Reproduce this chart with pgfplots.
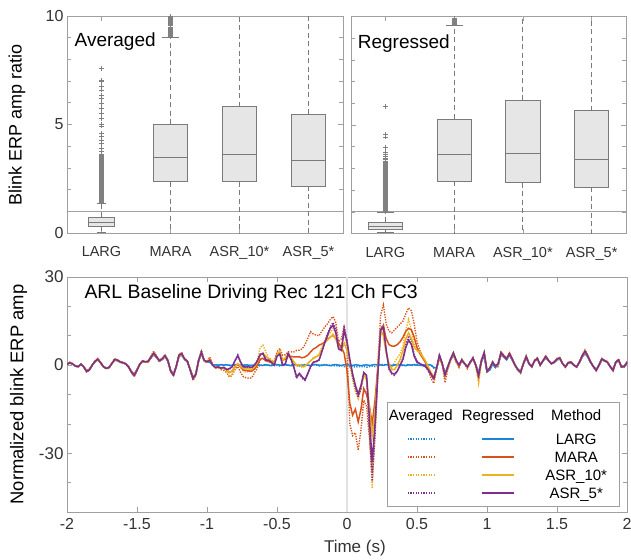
\documentclass[border=0pt]{standalone}
\usepackage{fontspec}
\setmainfont{Liberation Sans}
\usepackage{pgfplots}
\pgfplotsset{compat=1.18}
\usepackage{pgfplotstable}
\usepgfplotslibrary{statistics}

\definecolor{mblue}{rgb}{0.10,0.52,0.85}
\definecolor{morange}{rgb}{0.85,0.325,0.098}
\definecolor{myellow}{rgb}{0.929,0.694,0.125}
\definecolor{mpurple}{rgb}{0.494,0.184,0.556}
\definecolor{axgray}{HTML}{A0A0A0}
\definecolor{boxline}{HTML}{7A7A7A}
\definecolor{boxfill}{HTML}{E6E6E6}
\definecolor{outgray}{HTML}{808080}
\definecolor{tickgray}{HTML}{333333}
\definecolor{zerogray}{HTML}{E2E2E2}

\newcommand{\solidsample}[1]{\textcolor{#1}{\rule[0.32em]{32pt}{1.5pt}}}
\newcommand{\dotsample}[1]{\textcolor{#1}{\leaders\hbox to 2.6pt{\hss\rule[0.32em]{1.3pt}{1.5pt}\hss}\hskip 31.2pt}}

\pgfplotstableread{
t LA LR MA MR YA YR PA PR
-2.00 0.3 0.3 0.4 0.3 0.3 0.3 0.3 0.3
-1.98 0.7 0.7 1.0 0.8 0.9 0.8 0.9 0.8
-1.96 0.4 0.4 0.5 0.4 0.5 0.4 0.4 0.4
-1.94 -0.3 -0.3 -0.4 -0.3 -0.3 -0.3 -0.3 -0.3
-1.92 -0.5 -0.5 -0.6 -0.5 -0.6 -0.5 -0.6 -0.5
-1.90 0.3 0.3 0.4 0.3 0.3 0.3 0.3 0.3
-1.88 -0.6 -0.6 -0.7 -0.6 -0.7 -0.6 -0.7 -0.6
-1.86 -1.9 -1.9 -2.4 -2.0 -2.3 -2.0 -2.2 -2.1
-1.84 -1.4 -1.4 -1.8 -1.5 -1.7 -1.5 -1.6 -1.6
-1.82 0.0 0.0 0.0 0.0 0.0 0.0 0.0 0.0
-1.80 1.1 1.1 1.4 1.2 1.4 1.2 1.3 1.3
-1.78 1.8 1.8 2.3 1.9 2.2 1.9 2.1 2.0
-1.76 0.8 0.8 1.0 0.8 0.9 0.8 0.9 0.8
-1.74 -0.5 -0.5 -0.6 -0.5 -0.6 -0.5 -0.6 -0.5
-1.72 -1.0 -1.0 -1.2 -1.0 -1.2 -1.0 -1.1 -1.1
-1.70 -0.8 -0.8 -1.0 -0.8 -0.9 -0.8 -0.9 -0.8
-1.68 0.5 0.5 0.6 0.5 0.6 0.5 0.6 0.5
-1.66 1.7 1.7 2.2 1.8 2.1 1.8 2.0 1.9
-1.64 1.5 1.5 1.9 1.6 1.8 1.6 1.8 1.7
-1.62 1.0 1.0 1.2 1.0 1.2 1.0 1.1 1.1
-1.60 0.8 0.8 1.0 0.8 0.9 0.8 0.9 0.8
-1.58 0.4 0.4 0.5 0.4 0.5 0.4 0.4 0.4
-1.56 -0.6 -0.6 -0.7 -0.6 -0.7 -0.6 -0.7 -0.6
-1.54 -2.1 -2.1 -2.6 -2.2 -2.5 -2.2 -2.4 -2.3
-1.52 -3.1 -3.1 -4.0 -3.3 -3.8 -3.3 -3.6 -3.5
-1.50 -1.5 -1.5 -1.9 -1.6 -1.8 -1.6 -1.8 -1.7
-1.48 0.3 0.3 0.4 0.3 0.3 0.3 0.3 0.3
-1.46 1.2 1.2 1.6 1.3 1.5 1.3 1.4 1.4
-1.44 1.0 1.0 1.2 1.0 1.2 1.0 1.1 1.1
-1.42 1.1 1.1 1.4 1.2 1.4 1.2 1.3 1.3
-1.40 2.5 2.5 3.1 2.6 3.0 2.6 2.9 2.7
-1.38 3.6 3.6 4.8 3.8 4.4 3.8 4.2 4.0
-1.36 2.5 2.5 3.1 2.6 3.0 2.6 2.9 2.7
-1.34 1.3 1.3 1.7 1.4 1.6 1.4 1.5 1.5
-1.32 1.9 1.9 2.4 2.0 2.3 2.0 2.2 2.1
-1.30 2.9 2.9 3.6 3.0 3.5 3.0 3.3 3.2
-1.28 1.4 1.4 1.8 1.5 1.7 1.5 1.7 1.6
-1.26 -1.7 -1.7 -2.2 -1.8 -2.1 -1.8 -2.0 -1.9
-1.24 -3.0 -3.0 -3.8 -3.2 -3.7 -3.2 -3.5 -3.4
-1.22 -0.5 -0.5 -0.6 -0.5 -0.6 -0.5 -0.6 -0.5
-1.20 3.0 3.0 3.8 3.2 3.7 3.2 3.5 3.4
-1.18 3.4 3.4 4.3 3.6 4.1 3.6 4.0 3.8
-1.16 1.9 1.9 2.4 2.0 2.3 2.0 2.2 2.1
-1.14 1.1 1.1 1.4 1.2 1.4 1.2 1.3 1.3
-1.12 -1.4 -1.4 -1.8 -1.5 -1.7 -1.5 -1.7 -1.6
-1.10 -4.1 -4.1 -5.2 -4.3 -4.9 -4.3 -4.7 -4.5
-1.08 -2.9 -2.9 -3.6 -3.0 -3.5 -3.0 -3.3 -3.2
-1.06 1.4 1.4 1.8 1.5 1.7 1.5 1.7 1.6
-1.04 4.0 4.0 5.0 4.2 4.8 4.2 4.6 4.4
-1.02 1.4 1.4 1.8 1.5 1.7 1.5 1.7 1.6
-1.00 1.0 1.0 1.2 1.0 1.2 1.0 1.1 1.1
-0.98 1.0 1.0 2.8 1.8 2.1 1.8 1.8 1.7
-0.96 0.1 0.1 0.5 0.0 0.0 0.0 0.0 0.0
-0.94 0.0 0.1 -1.0 -0.8 -0.9 -0.8 -0.9 -0.8
-0.92 -0.2 0.0 -0.8 -0.6 -0.7 -0.6 -0.7 -0.6
-0.90 0.1 0.2 -1.5 -1.0 -1.2 -1.0 -1.1 -1.0
-0.88 -0.1 0.0 -1.8 -0.8 -1.2 -0.8 -0.9 -0.8
-0.86 0.2 0.1 -2.5 -1.5 -2.0 -1.5 -1.5 -1.5
-0.84 -0.2 0.0 -4.0 -2.5 -4.0 -2.5 -1.5 -1.2
-0.82 0.0 -0.2 -3.5 -2.0 -3.0 -2.0 -0.5 -0.5
-0.80 0.3 0.1 -1.5 -0.5 -1.0 -0.5 1.5 1.5
-0.78 0.0 0.2 -0.5 0.3 0.5 0.5 3.5 3.2
-0.76 -0.3 0.0 -2.5 -0.5 -1.0 -0.3 1.0 1.0
-0.74 0.1 -0.1 -4.0 -1.7 -2.0 -1.2 -0.8 -0.6
-0.72 0.2 0.1 -4.3 -1.8 -2.5 -1.3 -1.0 -0.6
-0.70 -0.2 0.0 -4.5 -2.0 -2.0 -1.3 -0.8 -0.6
-0.68 0.0 -0.2 -4.3 -2.0 -2.0 -1.5 -1.0 -0.8
-0.66 0.3 0.1 -2.5 -1.3 -0.5 -0.5 0.0 0.0
-0.64 0.0 0.2 -1.0 0.0 2.0 1.0 1.5 1.5
-0.62 -0.3 0.0 2.0 2.0 6.0 3.5 3.8 3.5
-0.60 0.1 -0.1 2.5 2.3 6.8 4.0 4.0 4.0
-0.58 0.2 0.1 1.5 1.5 4.5 3.0 2.0 1.7
-0.56 -0.1 0.0 1.5 1.2 2.5 2.3 1.8 1.7
-0.54 0.0 -0.2 1.5 0.8 2.0 1.5 1.0 1.0
-0.52 0.3 0.1 1.0 0.5 0.5 0.5 0.0 0.0
-0.50 0.0 0.2 4.5 3.5 4.0 3.5 3.5 3.0
-0.48 -0.3 0.0 5.7 4.2 5.0 4.5 4.0 3.8
-0.46 0.1 -0.1 3.4 1.7 1.5 1.7 0.0 0.0
-0.44 0.2 0.1 3.5 2.0 2.5 2.5 0.3 0.5
-0.42 -0.1 0.0 4.5 3.0 4.0 3.4 4.2 4.0
-0.40 0.0 -0.2 4.5 3.0 2.5 2.5 2.0 2.0
-0.38 0.3 0.1 4.5 2.8 1.0 1.1 -0.8 -0.6
-0.36 0.0 0.2 5.0 2.8 -0.5 0.0 -4.5 -4.0
-0.34 -0.3 0.0 5.1 2.8 0.0 0.2 -3.0 -2.8
-0.32 0.1 -0.1 5.5 2.5 -0.8 -0.5 -4.5 -4.0
-0.30 0.2 0.1 7.0 2.8 -0.5 -0.3 -5.2 -5.0
-0.28 -0.1 0.0 9.1 3.4 0.5 0.6 -3.0 -2.8
-0.26 0.0 -0.2 11.4 4.5 1.5 1.5 -0.5 -0.5
-0.24 0.3 0.1 10.5 5.5 2.5 2.3 1.0 1.0
-0.22 0.0 0.2 10.2 6.0 3.0 2.8 1.3 1.2
-0.20 -0.3 0.0 10.0 6.8 3.8 3.4 1.8 1.7
-0.18 0.1 -0.1 11.5 7.2 6.0 5.5 4.5 4.5
-0.16 0.2 0.1 13.0 7.8 8.0 7.5 7.8 7.5
-0.14 -0.1 0.0 14.0 8.8 9.5 8.5 10.5 10.0
-0.12 0.0 -0.2 15.5 9.5 11.0 9.5 13.0 12.5
-0.10 -0.3 0.1 16.5 10.2 12.5 10.5 14.5 13.6
-0.08 -0.1 0.2 14.5 9.0 11.0 9.0 12.5 11.0
-0.06 -0.4 0.0 8.0 7.5 6.0 6.0 6.0 5.5
-0.04 -0.2 -0.1 9.0 6.0 6.5 5.0 5.5 5.0
-0.02 -0.5 0.1 13.5 4.0 11.0 7.5 12.8 12.0
0.00 -0.3 0.2 6.0 -2.0 7.0 5.0 8.5 8.0
0.02 -0.6 0.0 -20.0 -13.0 0.5 1.0 1.5 2.0
0.04 -0.4 -0.1 -24.0 -17.0 -5.0 -3.0 -4.0 -3.0
0.06 -0.7 0.1 -23.0 -15.0 -9.0 -7.0 -8.0 -7.0
0.08 -0.5 0.0 -29.0 -19.3 -11.5 -9.5 -11.0 -10.0
0.10 -0.6 -0.2 -22.0 -15.0 -8.0 -7.0 -8.0 -7.0
0.12 -0.4 0.0 -12.0 -8.0 -3.5 -3.0 -3.0 -2.5
0.14 -0.7 0.1 -14.0 -10.0 -5.0 -5.0 -4.0 -3.5
0.16 -0.5 -0.1 -25.0 -14.0 -22.0 -14.0 -22.0 -18.0
0.18 -0.3 0.0 -36.0 -20.0 -42.0 -24.0 -39.5 -33.0
0.20 -0.5 0.2 -22.0 -12.0 -24.0 -16.0 -24.0 -20.0
0.22 -0.2 0.0 0.0 -1.0 -3.0 -2.0 -4.0 -3.0
0.24 0.1 0.1 17.0 11.0 12.0 12.0 12.5 12.0
0.26 0.3 -0.1 20.5 13.5 11.0 10.0 13.5 13.0
0.28 0.0 0.2 14.0 9.0 5.0 4.0 5.0 5.0
0.30 0.2 0.0 11.5 7.0 0.0 0.5 -1.5 -1.0
0.32 -0.2 -0.1 11.0 6.5 -1.0 -1.5 -3.0 -2.8
0.34 0.0 0.1 12.0 6.5 1.0 -1.5 -3.5 -3.0
0.36 0.3 0.0 13.0 7.0 2.5 0.0 -2.0 -2.0
0.38 0.0 0.2 14.0 8.0 4.0 2.0 0.0 0.0
0.40 -0.2 0.0 15.0 9.5 6.5 5.0 2.5 2.0
0.42 0.1 -0.2 17.5 11.5 12.0 9.0 7.0 6.0
0.44 0.2 0.1 19.5 12.5 15.5 11.0 10.0 8.5
0.46 -0.1 0.0 18.5 12.0 12.0 9.0 8.0 7.0
0.48 0.0 0.2 14.0 9.5 7.0 6.0 3.5 3.0
0.50 0.3 0.0 8.0 6.0 5.0 5.0 1.5 1.0
0.52 0.0 -0.1 5.0 4.0 4.0 4.5 0.5 0.5
0.54 -0.2 0.1 3.0 2.5 2.5 3.0 0.0 0.0
0.56 0.1 0.0 1.0 1.0 1.0 1.5 -0.5 -0.5
0.58 0.2 0.2 -1.5 -1.0 -1.0 -0.5 -2.0 -1.5
0.60 0.0 0.0 -4.5 -3.0 -3.0 -2.5 -3.5 -3.0
0.62 -1.0 -0.8 -6.2 -4.5 -5.0 -4.0 -4.8 -4.5
0.64 -0.9 -0.9 -1.5 -1.0 -1.2 -1.0 -1.1 -1.0
0.66 2.7 2.7 2.5 2.5 3.0 2.8 3.6 3.4
0.68 0.5 0.5 0.3 0.5 0.6 0.5 0.6 0.5
0.70 -2.8 -2.8 -6.0 -3.6 -4.2 -3.4 -3.6 -3.4
0.72 -0.5 -0.5 -1.5 -0.8 -0.6 -0.5 -0.6 -0.5
0.74 1.8 1.8 1.5 1.8 2.2 2.0 2.3 2.1
0.76 3.5 3.5 3.5 3.8 4.4 4.0 4.3 4.1
0.78 1.4 1.4 1.0 1.3 1.7 1.5 1.7 1.6
0.80 0.0 0.0 -0.8 -0.3 -0.2 0.0 0.0 0.0
0.82 1.5 1.5 1.7 1.7 2.0 1.7 1.9 1.8
0.84 0.5 0.5 0.3 0.5 0.6 0.5 0.6 0.5
0.86 -0.5 -0.5 -1.2 -0.7 -0.8 -0.6 -0.7 -0.6
0.88 0.9 0.9 0.8 1.0 1.1 1.0 1.1 1.0
0.90 2.1 2.1 2.3 2.3 2.5 2.3 2.6 2.4
0.92 0.0 0.0 -0.5 0.0 -0.3 0.0 0.0 0.0
0.94 -2.5 -2.5 -5.0 -3.4 -6.2 -3.4 -3.8 -3.6
0.96 1.2 1.2 1.0 1.5 1.0 1.5 1.7 1.6
0.98 3.2 3.2 3.8 4.0 4.2 4.0 4.4 4.2
1.00 -2.3 -2.3 -2.5 -2.0 -2.3 -2.0 -2.2 -2.1
1.02 -1.6 -1.6 -1.4 -1.0 -1.2 -1.0 -1.1 -1.0
1.04 0.3 0.3 0.8 1.0 1.1 1.0 1.1 1.0
1.06 -0.8 -0.8 -0.8 -0.3 -0.5 -0.3 -0.3 -0.3
1.08 0.2 0.2 -0.5 0.5 0.5 0.5 0.6 0.5
1.10 3.6 3.6 4.5 4.0 4.5 4.0 4.4 4.2
1.12 2.7 2.7 3.4 3.0 3.4 3.0 3.3 3.1
1.14 1.8 1.8 2.3 2.0 2.2 2.0 2.2 2.1
1.16 3.4 3.4 4.3 3.8 4.2 3.8 4.1 3.9
1.18 1.8 1.8 2.3 2.0 2.2 2.0 2.2 2.1
1.20 0.0 0.0 0.0 0.0 0.0 0.0 0.0 0.0
1.22 -1.4 -1.4 -1.8 -1.5 -1.7 -1.5 -1.6 -1.5
1.24 -2.1 -2.1 -2.8 -2.3 -2.6 -2.3 -2.5 -2.4
1.26 0.5 0.5 0.6 0.5 0.6 0.5 0.5 0.5
1.28 2.5 2.5 3.2 2.8 3.1 2.8 3.0 2.9
1.30 0.5 0.5 0.6 0.5 0.6 0.5 0.5 0.5
1.32 -0.5 -0.5 -0.7 -0.5 -0.6 -0.5 -0.5 -0.5
1.34 1.4 1.4 1.7 1.5 1.7 1.5 1.6 1.5
1.36 2.0 2.0 2.5 2.2 2.4 2.2 2.4 2.3
1.38 0.0 0.0 0.0 0.0 0.0 0.0 0.0 0.0
1.40 1.4 1.4 1.7 1.5 1.7 1.5 1.6 1.5
1.42 2.5 2.5 3.2 2.8 3.1 2.8 3.0 2.9
1.44 1.4 1.4 1.7 1.5 1.7 1.5 1.6 1.5
1.46 0.5 0.5 0.6 0.5 0.6 0.5 0.5 0.5
1.48 0.9 0.9 1.2 1.0 1.1 1.0 1.1 1.0
1.50 1.8 1.8 2.3 2.0 2.2 2.0 2.2 2.1
1.52 2.1 2.1 2.6 2.3 2.5 2.3 2.5 2.4
1.54 0.5 0.5 0.6 0.5 0.6 0.5 0.5 0.5
1.56 -0.5 -0.5 -0.7 -0.6 -0.7 -0.6 -0.7 -0.6
1.58 0.7 0.7 0.9 0.8 0.9 0.8 0.9 0.8
1.60 0.9 0.9 1.2 1.0 1.1 1.0 1.1 1.0
1.62 0.0 0.0 0.0 0.0 0.0 0.0 0.0 0.0
1.64 -0.5 -0.5 -0.7 -0.6 -0.7 -0.6 -0.7 -0.6
1.66 0.9 0.9 1.2 1.0 1.1 1.0 1.1 1.0
1.68 2.7 2.7 3.4 3.0 3.3 3.0 3.3 3.1
1.70 4.0 4.0 5.2 4.5 5.0 4.5 4.9 4.7
1.72 2.7 2.7 3.4 3.0 3.3 3.0 3.3 3.1
1.74 0.9 0.9 1.2 1.0 1.1 1.0 1.1 1.0
1.76 -0.5 -0.5 -0.6 -0.5 -0.6 -0.5 -0.5 -0.5
1.78 -1.5 -1.5 -2.0 -1.7 -1.9 -1.7 -1.9 -1.8
1.80 0.0 0.0 0.0 0.0 0.0 0.0 0.0 0.0
1.82 1.8 1.8 2.3 2.0 2.2 2.0 2.2 2.1
1.84 1.4 1.4 1.7 1.5 1.7 1.5 1.6 1.5
1.86 0.9 0.9 1.2 1.0 1.1 1.0 1.1 1.0
1.88 -0.5 -0.5 -0.6 -0.5 -0.6 -0.5 -0.5 -0.5
1.90 -1.5 -1.5 -2.0 -1.7 -1.9 -1.7 -1.9 -1.8
1.92 0.9 0.9 1.2 1.0 1.1 1.0 1.1 1.0
1.94 1.5 1.5 2.0 1.7 1.9 1.7 1.9 1.8
1.96 -0.5 -0.5 -0.7 -0.6 -0.7 -0.6 -0.7 -0.6
1.98 -0.5 -0.5 -0.6 -0.5 -0.6 -0.5 -0.5 -0.5
2.00 0.9 0.9 1.2 1.0 1.1 1.0 1.1 1.0
}\erp

\pgfplotsset{
  boxax/.style={
    scale only axis, width=276pt, height=217pt,
    anchor=north west,
    xmin=0.5, xmax=4.5, ymin=0, ymax=10,
    xtick={1,2,3,4}, xticklabels={LARG,MARA,ASR\_10*,ASR\_5*},
    ytick={0,5,10}, minor ytick={1,2,3,4,6,7,8,9},
    axis line style={axgray, line width=0.8pt},
    tick style={axgray, line width=0.6pt},
    major tick length=5pt, minor tick length=4pt,
    tick align=inside,
    x tick label style={font=\fontsize{14.5}{16}\selectfont, text=tickgray, yshift=-10pt},
    y tick label style={font=\fontsize{16}{18}\selectfont, text=tickgray},
    boxplot/draw direction=y,
    boxplot/draw/upper whisker/.code={%
      \draw[dash pattern=on 5pt off 3.5pt] (boxplot cs:\pgfplotsboxplotvalue{upper quartile}) -- (boxplot cs:\pgfplotsboxplotvalue{upper whisker});
      \draw[solid] (boxplot whisker cs:\pgfplotsboxplotvalue{upper whisker},0) -- (boxplot whisker cs:\pgfplotsboxplotvalue{upper whisker},1);
    },
    boxplot/draw/lower whisker/.code={%
      \draw[dash pattern=on 5pt off 3.5pt] (boxplot cs:\pgfplotsboxplotvalue{lower quartile}) -- (boxplot cs:\pgfplotsboxplotvalue{lower whisker});
      \draw[solid] (boxplot whisker cs:\pgfplotsboxplotvalue{lower whisker},0) -- (boxplot whisker cs:\pgfplotsboxplotvalue{lower whisker},1);
    },
  },
  boxst/.style={draw=boxline, fill=boxfill, line width=0.8pt, mark=+, mark size=2.4pt,
    mark options={solid, draw=outgray, fill=none, line width=0.6pt}},
  ldot/.style={line width=1.4pt, dash pattern=on 1.3pt off 1.3pt},
  lsol/.style={line width=1.5pt},
}

\begin{document}
\begin{tikzpicture}
\useasboundingbox (0,0) rectangle (631pt,-559pt);

% ---------------- Averaged ----------------
\begin{axis}[boxax, at={(67pt,-16pt)},
  yticklabels={0,5,10},
  ylabel={Blink ERP amp ratio},
  every axis y label/.style={at={(axis description cs:-0.181,0.5)}, rotate=90, anchor=center, font=\fontsize{18}{20}\selectfont},
]
\addplot[draw=axgray, line width=0.7pt] coordinates {(0.5,1) (4.5,1)};
\addplot[boxst, boxplot prepared={draw position=1, lower whisker=0.03, lower quartile=0.32, median=0.47, upper quartile=0.72, upper whisker=1.38, box extend=0.38, whisker extend=0.12}]
 table[row sep=\\, y index=0] {data\\ 1.42\\ 1.46\\ 1.50\\ 1.54\\ 1.58\\ 1.62\\ 1.66\\ 1.70\\ 1.74\\ 1.78\\ 1.82\\ 1.86\\ 1.90\\ 1.94\\ 1.98\\ 2.02\\ 2.06\\ 2.10\\ 2.14\\ 2.18\\ 2.22\\ 2.26\\ 2.30\\ 2.34\\ 2.38\\ 2.42\\ 2.46\\ 2.50\\ 2.54\\ 2.58\\ 2.62\\ 2.66\\ 2.70\\ 2.74\\ 2.78\\ 2.82\\ 2.86\\ 2.90\\ 2.94\\ 2.98\\ 3.02\\ 3.06\\ 3.10\\ 3.14\\ 3.18\\ 3.22\\ 3.26\\ 3.30\\ 3.34\\ 3.38\\ 3.42\\ 3.46\\ 3.50\\ 3.54\\ 3.58\\ 3.62\\ 3.75\\ 3.90\\ 4.13\\ 4.29\\ 4.45\\ 4.59\\ 4.93\\ 5.00\\ 5.28\\ 5.52\\ 5.75\\ 5.98\\ 6.21\\ 6.36\\ 6.59\\ 6.77\\ 6.97\\ 7.05\\ 7.59\\};
\addplot[boxst, boxplot prepared={draw position=2, lower whisker=-0.5, lower quartile=2.37, median=3.49, upper quartile=5.02, upper whisker=9.0, box extend=0.5, whisker extend=0.25}]
 table[row sep=\\, y index=0] {data\\ 9.05\\ 9.10\\ 9.15\\ 9.20\\ 9.25\\ 9.30\\ 9.35\\ 9.40\\ 9.45\\ 9.50\\ 9.55\\ 9.60\\ 9.65\\ 9.70\\ 9.75\\ 9.80\\ 9.85\\ 9.90\\ 9.95\\ 10.0\\ 10.1\\ 10.2\\};
\addplot[boxst, boxplot prepared={draw position=3, lower whisker=-0.5, lower quartile=2.37, median=3.64, upper quartile=5.82, upper whisker=12, box extend=0.5, whisker extend=0.25}]
 table[row sep=\\, y index=0] {data\\ 13\\};
\addplot[boxst, boxplot prepared={draw position=4, lower whisker=-0.5, lower quartile=2.17, median=3.36, upper quartile=5.47, upper whisker=12, box extend=0.5, whisker extend=0.25}]
 table[row sep=\\, y index=0] {data\\ 13\\};
\node[anchor=west, font=\fontsize{19}{22}\selectfont] at (axis description cs:0.015,0.88) {Averaged};
\end{axis}

% ---------------- Regressed ----------------
\begin{axis}[boxax, at={(351pt,-16.5pt)}, width=275pt,
  yticklabels={,,},
]
\addplot[draw=axgray, line width=0.7pt] coordinates {(0.5,1) (4.5,1)};
\addplot[boxst, boxplot prepared={draw position=1, lower whisker=0.03, lower quartile=0.20, median=0.35, upper quartile=0.52, upper whisker=0.97, box extend=0.5, whisker extend=0.25}]
 table[row sep=\\, y index=0] {data\\ 1.00\\ 1.04\\ 1.08\\ 1.12\\ 1.16\\ 1.20\\ 1.24\\ 1.28\\ 1.32\\ 1.36\\ 1.40\\ 1.44\\ 1.48\\ 1.52\\ 1.56\\ 1.60\\ 1.64\\ 1.68\\ 1.72\\ 1.76\\ 1.80\\ 1.84\\ 1.88\\ 1.92\\ 1.96\\ 2.00\\ 2.04\\ 2.08\\ 2.12\\ 2.16\\ 2.20\\ 2.24\\ 2.28\\ 2.32\\ 2.36\\ 2.40\\ 2.44\\ 2.48\\ 2.52\\ 2.56\\ 2.60\\ 2.64\\ 2.68\\ 2.72\\ 2.76\\ 2.80\\ 2.84\\ 2.88\\ 2.92\\ 2.96\\ 3.00\\ 3.04\\ 3.08\\ 3.12\\ 3.16\\ 3.20\\ 3.24\\ 3.28\\ 3.33\\ 3.40\\ 3.48\\ 3.56\\ 3.64\\ 3.72\\ 3.98\\ 4.45\\ 4.56\\ 5.87\\};
\addplot[boxst, boxplot prepared={draw position=2, lower whisker=-0.5, lower quartile=2.41, median=3.64, upper quartile=5.28, upper whisker=9.58, box extend=0.5, whisker extend=0.25}]
 table[row sep=\\, y index=0] {data\\ 9.66\\ 9.70\\ 9.74\\ 9.78\\ 9.82\\ 9.86\\ 9.90\\};
\addplot[boxst, boxplot prepared={draw position=3, lower whisker=-0.5, lower quartile=2.35, median=3.70, upper quartile=6.13, upper whisker=12, box extend=0.5, whisker extend=0.25}]
 table[row sep=\\, y index=0] {data\\ 13\\};
\addplot[boxst, boxplot prepared={draw position=4, lower whisker=-0.5, lower quartile=2.13, median=3.40, upper quartile=5.65, upper whisker=12, box extend=0.5, whisker extend=0.25}]
 table[row sep=\\, y index=0] {data\\ 13\\};
\node[anchor=west, font=\fontsize{19}{22}\selectfont] at (axis description cs:0.012,0.877) {Regressed};
\end{axis}

% ---------------- Time course ----------------
\begin{axis}[scale only axis, width=560pt, height=235pt, at={(67pt,-277pt)}, anchor=north west,
  xmin=-2, xmax=2, ymin=-50, ymax=30,
  xtick={-2,-1.5,-1,-0.5,0,0.5,1,1.5,2},
  xticklabels={-2,-1.5,-1,-0.5,0,0.5,1,1.5,2},
  ytick={-30,0,30}, yticklabels={-30,0,30},
  minor ytick={-40,-20,-10,10,20},
  axis line style={axgray, line width=0.8pt},
  tick style={axgray, line width=0.6pt},
  major tick length=5pt, minor tick length=4pt,
  tick align=inside,
  x tick label style={font=\fontsize{16}{18}\selectfont, text=tickgray, yshift=-3pt},
  y tick label style={font=\fontsize{17}{19}\selectfont, text=tickgray},
  xlabel={Time (s)},
  every axis x label/.style={at={(axis description cs:0.514,-0.152)}, anchor=center, font=\fontsize{17}{19}\selectfont, text=tickgray},
  ylabel={Normalized blink ERP amp},
  every axis y label/.style={at={(axis description cs:-0.0866,0.5)}, rotate=90, anchor=center, font=\fontsize{18.4}{20}\selectfont},
]
\addplot[draw=zerogray, line width=1.2pt] coordinates {(0,-50) (0,30)};
\addplot[mblue, ldot] table[x=t, y=LA] {\erp};
\addplot[morange, ldot] table[x=t, y=MA] {\erp};
\addplot[myellow, ldot] table[x=t, y=YA] {\erp};
\addplot[mpurple, ldot] table[x=t, y=PA] {\erp};
\addplot[mblue, lsol] table[x=t, y=LR] {\erp};
\addplot[morange, lsol] table[x=t, y=MR] {\erp};
\addplot[myellow, lsol] table[x=t, y=YR] {\erp};
\addplot[mpurple, lsol] table[x=t, y=PR] {\erp};
\node[anchor=west, font=\fontsize{19.4}{22}\selectfont] at (axis description cs:0.025,0.928) {ARL Baseline Driving Rec 121 Ch FC3};
\node[draw=axgray, line width=0.8pt, fill=white, minimum width=232pt, minimum height=104pt, inner sep=0pt] at (axis description cs:0.7786,0.2468) {};
\node[inner sep=0pt, font=\fontsize{15}{18}\selectfont] at (axis description cs:0.7696,0.2383) {%
  \begin{tabular}{@{}c@{\hspace{9pt}}c@{\hspace{11pt}}c@{}}
  Averaged & Regressed & Method\\[6pt]
  \dotsample{mblue} & \solidsample{mblue} & LARG\\
  \dotsample{morange} & \solidsample{morange} & MARA\\
  \dotsample{myellow} & \solidsample{myellow} & ASR\_10*\\
  \dotsample{mpurple} & \solidsample{mpurple} & ASR\_5*\\
  \end{tabular}};
\end{axis}
\end{tikzpicture}
\end{document}
